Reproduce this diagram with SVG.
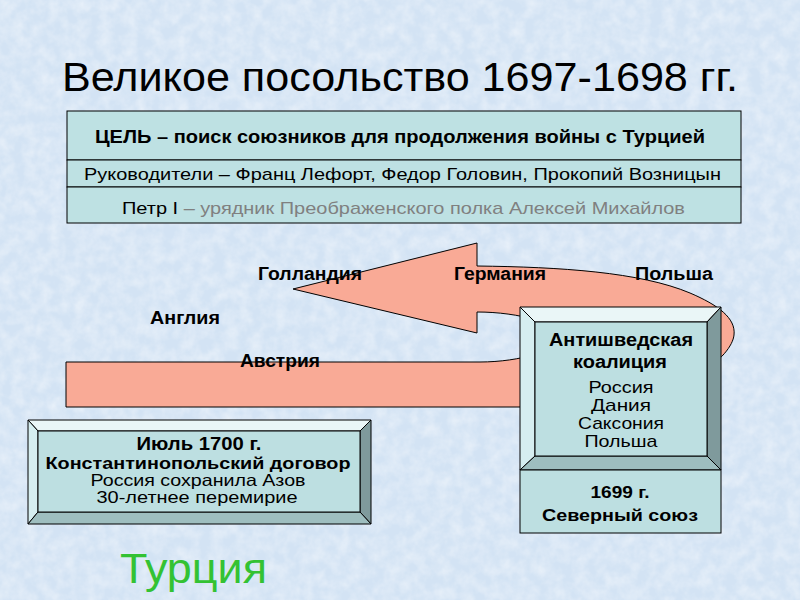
<svg xmlns="http://www.w3.org/2000/svg" width="800" height="600" viewBox="0 0 800 600">
  <defs>
    <filter id="tex" x="0" y="0" width="100%" height="100%">
      <feTurbulence type="fractalNoise" baseFrequency="0.08" numOctaves="3" seed="4" result="n"/>
      <feColorMatrix in="n" type="matrix" values="0 0 0 0 1  0 0 0 0 1  0 0 0 0 1  0 0 0 -1.6 1.1"/>
    </filter>
    <style>
      .t { font-family: "Liberation Sans", Arial, sans-serif; fill: #000; }
      .b { font-weight: bold; }
      .cell { fill: #BEE1E3; stroke: #000; stroke-width: 1; }
      .face { fill: #BDDFE1; stroke: #000; stroke-width: 1; }
      .bt { fill: #EAF6F7; stroke: #000; stroke-width: 1; }
      .bl { fill: #D6EEF0; stroke: #000; stroke-width: 1; }
      .br { fill: #7F9A9C; stroke: #000; stroke-width: 1; }
      .bb { fill: #9EBEBF; stroke: #000; stroke-width: 1; }
      .lbl { font-family: "Liberation Sans", Arial, sans-serif; font-weight: bold; font-size: 18px; fill: #000; }
    </style>
  </defs>

  <rect x="0" y="0" width="800" height="600" fill="#D3E3F4"/>
  <rect x="0" y="0" width="800" height="600" filter="url(#tex)" opacity="0.45"/>

  <text class="t" x="62" y="91" font-size="40" textLength="676" lengthAdjust="spacingAndGlyphs">Великое посольство 1697-1698 гг.</text>

  <g id="table">
    <rect class="cell" x="67" y="111" width="674" height="49"/>
    <rect class="cell" x="67" y="160" width="674" height="27"/>
    <rect class="cell" x="67" y="187" width="674" height="36"/>
    <text class="t b" x="95" y="143" font-size="18" textLength="610" lengthAdjust="spacingAndGlyphs">ЦЕЛЬ – поиск союзников для продолжения войны с Турцией</text>
    <text class="t" x="84" y="180" font-size="17" textLength="637" lengthAdjust="spacingAndGlyphs">Руководители – Франц Лефорт, Федор Головин, Прокопий Возницын</text>
    <text class="t" x="122" y="214" font-size="17" textLength="563" lengthAdjust="spacingAndGlyphs">Петр I <tspan fill="#808080">– урядник Преображенского полка Алексей Михайлов</tspan></text>
  </g>

  <g id="connectors">
    <path d="M66,362 L480,362 C520,362 560,350 560,337 C560,324 520,312 477,312 L477,333 L293,289 L477,243 L477,266 C560,267 640,272 690,293 C718,305 736,318 734,335 C732,355 690,400 560,407 L66,407 Z" fill="#F9AA96" stroke="#000" stroke-width="1"/>
  </g>

  <g id="labels">
    <text class="lbl" x="258" y="280" textLength="104" lengthAdjust="spacingAndGlyphs">Голландия</text>
    <text class="lbl" x="454" y="280" textLength="92" lengthAdjust="spacingAndGlyphs">Германия</text>
    <text class="lbl" x="635" y="280" textLength="78" lengthAdjust="spacingAndGlyphs">Польша</text>
    <text class="lbl" x="150" y="324" textLength="70" lengthAdjust="spacingAndGlyphs">Англия</text>
    <text class="lbl" x="240" y="367" textLength="80" lengthAdjust="spacingAndGlyphs">Австрия</text>
  </g>

  <g id="coalition">
    <polygon class="bt" points="520,307 721,307 707,322 535,322"/>
    <polygon class="bl" points="520,307 535,322 535,456 520,470"/>
    <polygon class="br" points="721,307 721,470 707,456 707,322"/>
    <polygon class="bb" points="520,470 535,456 707,456 721,470"/>
    <rect class="face" x="535" y="322" width="172" height="134"/>
    <text class="t b" x="621" y="346" font-size="18" text-anchor="middle" textLength="144" lengthAdjust="spacingAndGlyphs">Антишведская</text>
    <text class="t b" x="620" y="368" font-size="18" text-anchor="middle" textLength="94" lengthAdjust="spacingAndGlyphs">коалиция</text>
    <text class="t" x="621" y="393" font-size="17" text-anchor="middle" textLength="65" lengthAdjust="spacingAndGlyphs">Россия</text>
    <text class="t" x="621" y="411" font-size="17" text-anchor="middle" textLength="60" lengthAdjust="spacingAndGlyphs">Дания</text>
    <text class="t" x="621" y="429" font-size="17" text-anchor="middle" textLength="86" lengthAdjust="spacingAndGlyphs">Саксония</text>
    <text class="t" x="621" y="447" font-size="17" text-anchor="middle" textLength="73" lengthAdjust="spacingAndGlyphs">Польша</text>
  </g>

  <g id="northern-union">
    <rect class="face" x="520" y="470" width="201" height="63"/>
    <text class="t b" x="620" y="498" font-size="17" text-anchor="middle" textLength="59" lengthAdjust="spacingAndGlyphs">1699 г.</text>
    <text class="t b" x="620" y="521" font-size="17" text-anchor="middle" textLength="156" lengthAdjust="spacingAndGlyphs">Северный союз</text>
  </g>

  <g id="treaty">
    <polygon class="bt" points="28,420 371,420 360,431 38,431"/>
    <polygon class="bl" points="28,420 38,431 38,512 28,524"/>
    <polygon class="br" points="371,420 371,524 360,512 360,431"/>
    <polygon class="bb" points="28,524 38,512 360,512 371,524"/>
    <rect class="face" x="38" y="431" width="322" height="81"/>
    <text class="t b" x="199" y="450" font-size="18" text-anchor="middle" textLength="125" lengthAdjust="spacingAndGlyphs">Июль 1700 г.</text>
    <text class="t b" x="198" y="469" font-size="16.5" text-anchor="middle" textLength="305" lengthAdjust="spacingAndGlyphs">Константинопольский договор</text>
    <text class="t" x="198" y="486" font-size="16.5" text-anchor="middle" textLength="215" lengthAdjust="spacingAndGlyphs">Россия сохранила Азов</text>
    <text class="t" x="197" y="503" font-size="17" text-anchor="middle" textLength="201" lengthAdjust="spacingAndGlyphs">30-летнее перемирие</text>
  </g>

  <g id="turkey">
    <text class="t" x="120" y="583" font-size="42" style="fill:#33C233" textLength="147" lengthAdjust="spacingAndGlyphs">Турция</text>
  </g>
</svg>
